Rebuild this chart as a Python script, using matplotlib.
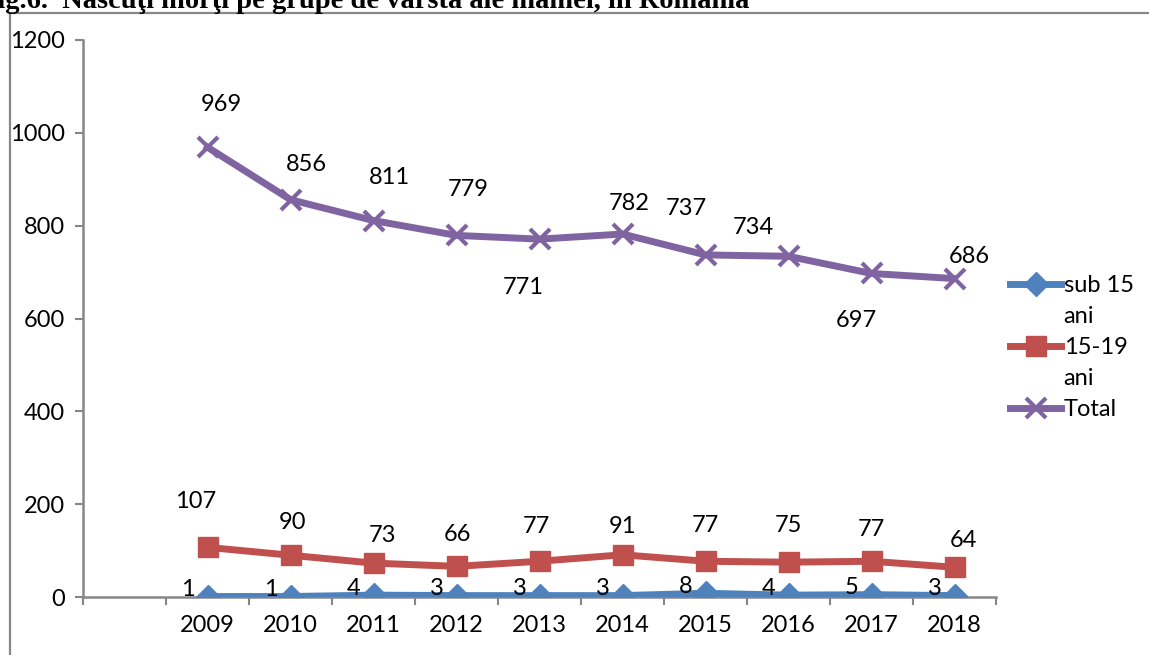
import numpy as np
import matplotlib
matplotlib.use('Agg')
import matplotlib.pyplot as plt
from matplotlib.lines import Line2D

# data
years = ['2009', '2010', '2011', '2012', '2013', '2014', '2015', '2016', '2017', '2018']
sub15 = [1, 1, 4, 3, 3, 3, 8, 4, 5, 3]
ani15_19 = [107, 90, 73, 66, 77, 91, 77, 75, 77, 64]
total = [969, 856, 811, 779, 771, 782, 737, 734, 697, 686]
series_names = ['sub 15', '15-19', 'Total']

# label offsets in pixels (dx, dy), like the hand placed excel labels
total_off = [(14, 43), (16, 35), (16, 43), (12, 46), (-16, -48),
             (7, 31), (-19, 46), (-35, 29), (-15, -47), (15, 22)]
red_off = [(-12, 46), (2, 33), (9, 28), (1, 32), (-3, 35),
           (0, 28), (0, 36), (0, 37), (0, 32), (9, 27)]
blue_off = (-20, 7)

plt.rcParams['font.family'] = ['Lato', 'DejaVu Sans']
fs = 17
gray = '#868686'

fig = plt.figure(figsize=(11.49, 6.55), dpi=100)
ax = fig.add_axes([83/1149, 1-597/655, 913/1149, 557/655])

x = np.arange(len(years)) + 1.5  # first category slot is empty

l1, = ax.plot(x, sub15, color='#4F81BD', lw=5, marker='D', ms=12, zorder=3)
l2, = ax.plot(x, ani15_19, color='#C0504D', lw=5, marker='s', ms=14, zorder=3)
l3, = ax.plot(x, total, color='#8064A2', lw=5, marker='x', ms=15, mew=3, zorder=3)

for i in range(len(years)):
    ax.annotate(str(total[i]), (x[i], total[i]), xytext=total_off[i], textcoords='offset pixels',
                ha='center', va='center', fontsize=fs)
    ax.annotate(str(ani15_19[i]), (x[i], ani15_19[i]), xytext=red_off[i], textcoords='offset pixels',
                ha='center', va='center', fontsize=fs)
    ax.annotate(str(sub15[i]), (x[i], sub15[i]), xytext=blue_off, textcoords='offset pixels',
                ha='center', va='center', fontsize=fs, zorder=4)

ax.set_xlim(0, len(years) + 1)
ax.set_ylim(0, 1200)
ax.set_yticks(np.arange(0, 1201, 200))
ax.set_xticks(x)
ax.set_xticklabels(years)
ax.set_xticks(np.arange(0, len(years) + 2), minor=True)
ax.tick_params(axis='x', which='major', length=0, labelsize=fs, pad=13)
ax.tick_params(axis='x', which='minor', length=6, width=1.5, color=gray, direction='out')
ax.tick_params(axis='y', length=6, width=1.5, color=gray, labelsize=fs, pad=7)
for s in ['top', 'right']:
    ax.spines[s].set_visible(False)
for s in ['left', 'bottom']:
    ax.spines[s].set_color(gray)
    ax.spines[s].set_linewidth(1.8)
ax.spines['bottom'].set_zorder(2)

# legend, wrapped labels so the 'ani' line gets no handle
blank = Line2D([], [], color='none')
leg = fig.legend([l1, blank, l2, blank, l3],
                 [series_names[0], 'ani', series_names[1], 'ani', series_names[2]],
                 loc='upper left', bbox_to_anchor=(1001/1149, 1-266/655),
                 frameon=False, fontsize=fs, handlelength=2.15, handletextpad=0.1,
                 labelspacing=0.42, borderaxespad=0)

# outer frame, only top and left visible in the crop
fig.add_artist(Line2D([10/1149, 10/1149], [0, 1-13/655], color='#888888', lw=1.6))
fig.add_artist(Line2D([10/1149, 1], [1-13/655, 1-13/655], color='#888888', lw=1.6))

# title cut off at the top of the picture
fig.text(-20/1149, 1-8/655, 'Fig.6.  Născuţi morţi pe grupe de vârstă ale mamei, în România',
         family='Liberation Serif', weight='bold', fontsize=20.5, ha='left', va='baseline')

fig.savefig('out.png', dpi=100)
